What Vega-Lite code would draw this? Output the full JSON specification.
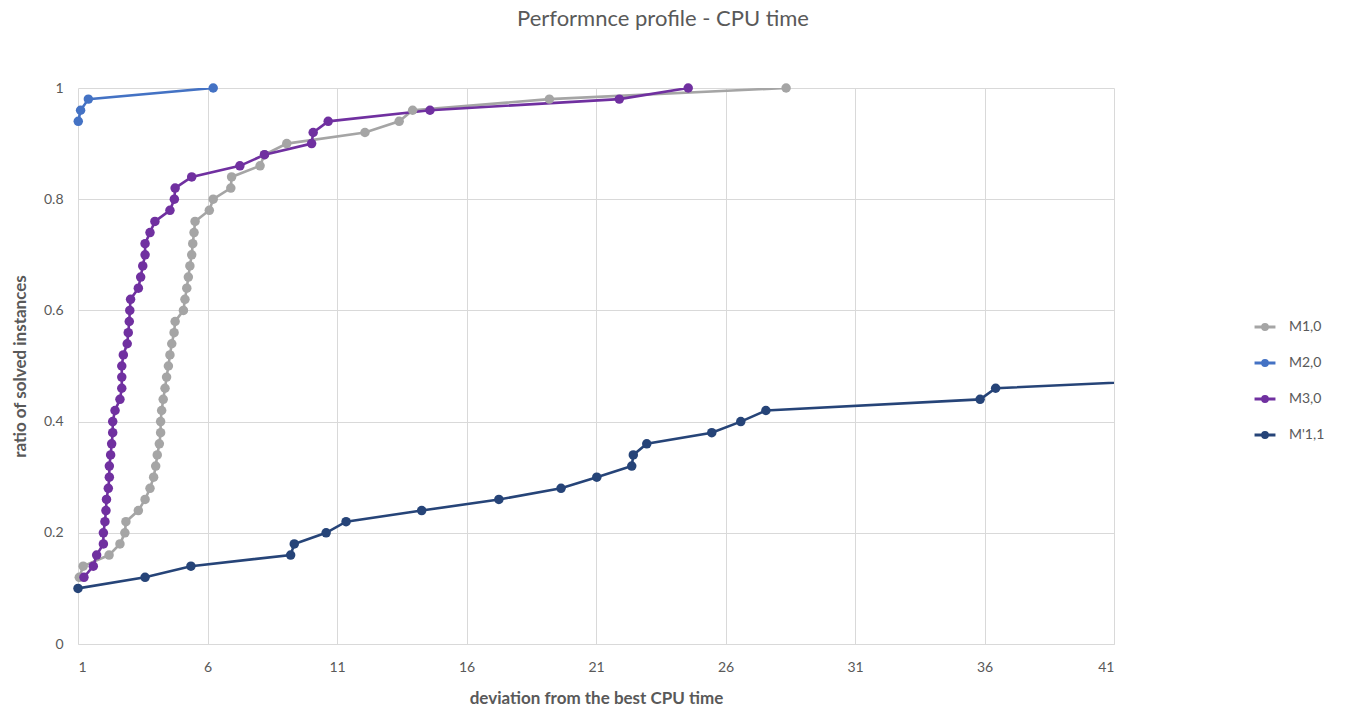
{
  "$schema": "https://vega.github.io/schema/vega-lite/v6.json",
  "width": 1036,
  "height": 556,
  "autosize": {"type": "none"},
  "padding": {"left": 78, "top": 88, "right": 233, "bottom": 69},
  "background": "white",
  "title": {
    "text": "Performnce profile - CPU time",
    "anchor": "middle",
    "dx": 67,
    "offset": 50,
    "font": "Lato",
    "fontSize": 22,
    "fontWeight": "normal",
    "color": "#595959"
  },
  "config": {
    "view": {"stroke": null},
    "axis": {
      "gridColor": "#D9D9D9",
      "gridWidth": 1,
      "labelFont": "Lato",
      "labelFontSize": 14,
      "labelColor": "#595959",
      "titleFont": "Lato",
      "titleFontSize": 17,
      "titleFontWeight": "bold",
      "titleColor": "#595959",
      "ticks": false
    },
    "legend": {
      "labelFont": "Lato",
      "labelFontSize": 14,
      "labelColor": "#595959"
    }
  },
  "data": {
    "values": [
      {"s": "M1,0", "x": 1.05, "y": 0.12},
      {"s": "M1,0", "x": 1.2, "y": 0.14},
      {"s": "M1,0", "x": 2.2, "y": 0.16},
      {"s": "M1,0", "x": 2.62, "y": 0.18},
      {"s": "M1,0", "x": 2.81, "y": 0.20},
      {"s": "M1,0", "x": 2.85, "y": 0.22},
      {"s": "M1,0", "x": 3.33, "y": 0.24},
      {"s": "M1,0", "x": 3.59, "y": 0.26},
      {"s": "M1,0", "x": 3.78, "y": 0.28},
      {"s": "M1,0", "x": 3.92, "y": 0.30},
      {"s": "M1,0", "x": 4.0, "y": 0.32},
      {"s": "M1,0", "x": 4.06, "y": 0.34},
      {"s": "M1,0", "x": 4.14, "y": 0.36},
      {"s": "M1,0", "x": 4.19, "y": 0.38},
      {"s": "M1,0", "x": 4.19, "y": 0.40},
      {"s": "M1,0", "x": 4.23, "y": 0.42},
      {"s": "M1,0", "x": 4.29, "y": 0.44},
      {"s": "M1,0", "x": 4.36, "y": 0.46},
      {"s": "M1,0", "x": 4.42, "y": 0.48},
      {"s": "M1,0", "x": 4.49, "y": 0.50},
      {"s": "M1,0", "x": 4.55, "y": 0.52},
      {"s": "M1,0", "x": 4.62, "y": 0.54},
      {"s": "M1,0", "x": 4.71, "y": 0.56},
      {"s": "M1,0", "x": 4.75, "y": 0.58},
      {"s": "M1,0", "x": 5.07, "y": 0.60},
      {"s": "M1,0", "x": 5.13, "y": 0.62},
      {"s": "M1,0", "x": 5.2, "y": 0.64},
      {"s": "M1,0", "x": 5.26, "y": 0.66},
      {"s": "M1,0", "x": 5.32, "y": 0.68},
      {"s": "M1,0", "x": 5.39, "y": 0.70},
      {"s": "M1,0", "x": 5.43, "y": 0.72},
      {"s": "M1,0", "x": 5.48, "y": 0.74},
      {"s": "M1,0", "x": 5.52, "y": 0.76},
      {"s": "M1,0", "x": 6.07, "y": 0.78},
      {"s": "M1,0", "x": 6.22, "y": 0.80},
      {"s": "M1,0", "x": 6.9, "y": 0.82},
      {"s": "M1,0", "x": 6.93, "y": 0.84},
      {"s": "M1,0", "x": 8.03, "y": 0.86},
      {"s": "M1,0", "x": 8.2, "y": 0.88},
      {"s": "M1,0", "x": 9.06, "y": 0.90},
      {"s": "M1,0", "x": 12.08, "y": 0.92},
      {"s": "M1,0", "x": 13.4, "y": 0.94},
      {"s": "M1,0", "x": 13.92, "y": 0.96},
      {"s": "M1,0", "x": 19.2, "y": 0.98},
      {"s": "M1,0", "x": 28.34, "y": 1.0},
      {"s": "M2,0", "x": 1.01, "y": 0.94},
      {"s": "M2,0", "x": 1.1, "y": 0.96},
      {"s": "M2,0", "x": 1.4, "y": 0.98},
      {"s": "M2,0", "x": 6.22, "y": 1.0},
      {"s": "M3,0", "x": 1.23, "y": 0.12},
      {"s": "M3,0", "x": 1.59, "y": 0.14},
      {"s": "M3,0", "x": 1.72, "y": 0.16},
      {"s": "M3,0", "x": 1.98, "y": 0.18},
      {"s": "M3,0", "x": 1.98, "y": 0.20},
      {"s": "M3,0", "x": 2.04, "y": 0.22},
      {"s": "M3,0", "x": 2.08, "y": 0.24},
      {"s": "M3,0", "x": 2.1, "y": 0.26},
      {"s": "M3,0", "x": 2.17, "y": 0.28},
      {"s": "M3,0", "x": 2.21, "y": 0.30},
      {"s": "M3,0", "x": 2.21, "y": 0.32},
      {"s": "M3,0", "x": 2.26, "y": 0.34},
      {"s": "M3,0", "x": 2.3, "y": 0.36},
      {"s": "M3,0", "x": 2.34, "y": 0.38},
      {"s": "M3,0", "x": 2.34, "y": 0.40},
      {"s": "M3,0", "x": 2.43, "y": 0.42},
      {"s": "M3,0", "x": 2.62, "y": 0.44},
      {"s": "M3,0", "x": 2.69, "y": 0.46},
      {"s": "M3,0", "x": 2.69, "y": 0.48},
      {"s": "M3,0", "x": 2.69, "y": 0.50},
      {"s": "M3,0", "x": 2.75, "y": 0.52},
      {"s": "M3,0", "x": 2.9, "y": 0.54},
      {"s": "M3,0", "x": 2.94, "y": 0.56},
      {"s": "M3,0", "x": 2.98, "y": 0.58},
      {"s": "M3,0", "x": 3.0, "y": 0.60},
      {"s": "M3,0", "x": 3.03, "y": 0.62},
      {"s": "M3,0", "x": 3.33, "y": 0.64},
      {"s": "M3,0", "x": 3.42, "y": 0.66},
      {"s": "M3,0", "x": 3.5, "y": 0.68},
      {"s": "M3,0", "x": 3.59, "y": 0.70},
      {"s": "M3,0", "x": 3.59, "y": 0.72},
      {"s": "M3,0", "x": 3.78, "y": 0.74},
      {"s": "M3,0", "x": 3.97, "y": 0.76},
      {"s": "M3,0", "x": 4.55, "y": 0.78},
      {"s": "M3,0", "x": 4.72, "y": 0.80},
      {"s": "M3,0", "x": 4.75, "y": 0.82},
      {"s": "M3,0", "x": 5.39, "y": 0.84},
      {"s": "M3,0", "x": 7.25, "y": 0.86},
      {"s": "M3,0", "x": 8.2, "y": 0.88},
      {"s": "M3,0", "x": 10.02, "y": 0.90},
      {"s": "M3,0", "x": 10.08, "y": 0.92},
      {"s": "M3,0", "x": 10.66, "y": 0.94},
      {"s": "M3,0", "x": 14.59, "y": 0.96},
      {"s": "M3,0", "x": 21.9, "y": 0.98},
      {"s": "M3,0", "x": 24.56, "y": 1.0},
      {"s": "M'1,1", "x": 1.0, "y": 0.10},
      {"s": "M'1,1", "x": 3.59, "y": 0.12},
      {"s": "M'1,1", "x": 5.36, "y": 0.14},
      {"s": "M'1,1", "x": 9.21, "y": 0.16},
      {"s": "M'1,1", "x": 9.35, "y": 0.18},
      {"s": "M'1,1", "x": 10.58, "y": 0.20},
      {"s": "M'1,1", "x": 11.35, "y": 0.22},
      {"s": "M'1,1", "x": 14.27, "y": 0.24},
      {"s": "M'1,1", "x": 17.25, "y": 0.26},
      {"s": "M'1,1", "x": 19.65, "y": 0.28},
      {"s": "M'1,1", "x": 21.03, "y": 0.30},
      {"s": "M'1,1", "x": 22.38, "y": 0.32},
      {"s": "M'1,1", "x": 22.44, "y": 0.34},
      {"s": "M'1,1", "x": 22.96, "y": 0.36},
      {"s": "M'1,1", "x": 25.47, "y": 0.38},
      {"s": "M'1,1", "x": 26.59, "y": 0.40},
      {"s": "M'1,1", "x": 27.56, "y": 0.42},
      {"s": "M'1,1", "x": 35.83, "y": 0.44},
      {"s": "M'1,1", "x": 36.43, "y": 0.46},
      {"s": "M'1,1", "x": 45.6, "y": 0.48}
    ]
  },
  "encoding": {
    "x": {
      "field": "x",
      "type": "quantitative",
      "scale": {"domain": [1, 41], "nice": false, "zero": false},
      "axis": {
        "values": [1, 6, 11, 16, 21, 26, 31, 36, 41],
        "title": "deviation from the best CPU time",
        "domainColor": "#D9D9D9",
        "labelPadding": 16,
        "titlePadding": 16
      }
    },
    "y": {
      "field": "y",
      "type": "quantitative",
      "scale": {"domain": [0, 1], "nice": false},
      "axis": {
        "values": [0, 0.2, 0.4, 0.6, 0.8, 1],
        "format": ".1~f",
        "title": "ratio of solved instances",
        "domain": false,
        "labelPadding": 15,
        "titlePadding": 14
      }
    },
    "color": {
      "field": "s",
      "type": "nominal",
      "scale": {
        "domain": ["M1,0", "M2,0", "M3,0", "M'1,1"],
        "range": ["#A5A5A5", "#4472C4", "#7030A0", "#264478"]
      },
      "legend": {
        "title": null,
        "orient": "none",
        "legendX": 1177,
        "legendY": 229,
        "symbolType": "M-1.25,0H1.25M0,-0.3A0.3,0.3,0,1,1,0,0.3A0.3,0.3,0,1,1,0,-0.3Z",
        "symbolSize": 280,
        "symbolStrokeWidth": 2.8,
        "labelOffset": 14,
        "rowPadding": 17
      }
    }
  },
  "layer": [
    {
      "mark": {"type": "line", "strokeWidth": 2.6, "clip": true},
      "encoding": {"order": {"field": "y", "type": "quantitative"}}
    },
    {
      "transform": [{"filter": "datum.x <= 41"}],
      "mark": {"type": "point", "filled": true, "size": 90, "opacity": 1}
    }
  ]
}
